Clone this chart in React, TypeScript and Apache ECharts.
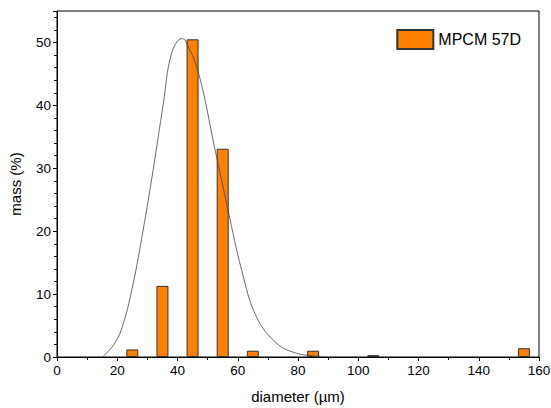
import React, { useEffect, useRef } from "react";
import * as echarts from "echarts";

const binCenters = [25, 35, 45, 55, 65, 85, 105, 155];
const massValues = [1.2, 11.3, 50.5, 33.1, 1.0, 1.0, 0.3, 1.4];

const fitX = [15.3, 19.2, 22.0, 25.3, 28.6, 31.9, 35.3, 38.0, 41.4, 42.5, 46.9, 52.4, 56.8, 61.3, 66.2, 72.9, 79.5, 87.5];
const fitY = [0.1, 2.2, 5.3, 11.7, 20.2, 29.7, 40.3, 48.2, 50.6, 50.4, 45.3, 33.1, 23.3, 13.8, 6.4, 2.2, 0.6, 0.1];

const xTicks = [0, 20, 40, 60, 80, 100, 120, 140, 160];
const yTicks = [0, 10, 20, 30, 40, 50];

const FONT = "Liberation Sans, Arial, sans-serif";

export default function App() {
  const ref = useRef<HTMLDivElement>(null);
  useEffect(() => {
    if (!ref.current) return;
    const chart = echarts.init(ref.current, null, { renderer: "svg" });
    chart.setOption({
      animation: false,
      backgroundColor: "#fff",
      grid: {
        left: 57, right: 12, top: 11, bottom: 51,
        show: true, borderColor: "#000", borderWidth: 1,
        containLabel: false, outerBoundsMode: "none",
      },
      legend: {
        show: true,
        right: 25,
        top: 24,
        itemWidth: 36,
        itemHeight: 19,
        itemGap: 4,
        data: [{ name: "MPCM 57D", icon: "rect" }],
        textStyle: { fontFamily: FONT, fontSize: 16, color: "#000" },
      },
      xAxis: {
        type: "value",
        min: xTicks[0],
        max: xTicks[xTicks.length - 1],
        interval: 20,
        name: "diameter (\u00b5m)",
        nameLocation: "middle",
        nameGap: 32,
        nameTextStyle: { fontFamily: FONT, fontSize: 15, color: "#000" },
        axisLine: { show: true, onZero: false, lineStyle: { color: "#000", width: 1 } },
        axisTick: { show: true, inside: false, length: 4, lineStyle: { color: "#000" } },
        minorTick: { show: true, splitNumber: 2, length: 3, lineStyle: { color: "#000" } },
        axisLabel: { fontFamily: FONT, fontSize: 13.5, color: "#000", margin: 6 },
        splitLine: { show: false },
      },
      yAxis: {
        type: "value",
        min: 0,
        max: 55,
        interval: 10,
        name: "mass (%)",
        nameLocation: "middle",
        nameGap: 34,
        nameTextStyle: { fontFamily: FONT, fontSize: 15, color: "#000" },
        axisLine: { show: true, lineStyle: { color: "#000", width: 1 } },
        axisTick: { show: true, inside: false, length: 4, lineStyle: { color: "#000" } },
        minorTick: { show: true, splitNumber: 5, length: 3, lineStyle: { color: "#000" } },
        axisLabel: {
          fontFamily: FONT,
          fontSize: 13.5,
          color: "#000",
          margin: 6,
          formatter: (v: number) => (yTicks.includes(v) ? String(v) : ""),
        },
        splitLine: { show: false },
      },
      series: [
        {
          name: "MPCM 57D",
          type: "bar",
          barWidth: 12,
          data: binCenters.map((c, i) => [c, massValues[i]]),
          itemStyle: { color: "#FF7F00", borderColor: "#333", borderWidth: 1 },
        },
        {
          name: "fit",
          type: "line",
          smooth: 0.4,
          symbol: "none",
          data: fitX.map((x, i) => [x, fitY[i]]),
          lineStyle: { color: "#444", width: 0.8 },
          z: 3,
        },
      ],
    });
    return () => chart.dispose();
  }, []);
  return <div ref={ref} style={{ position: "fixed", left: 0, top: 0, width: 551, height: 408 }} />;
}
